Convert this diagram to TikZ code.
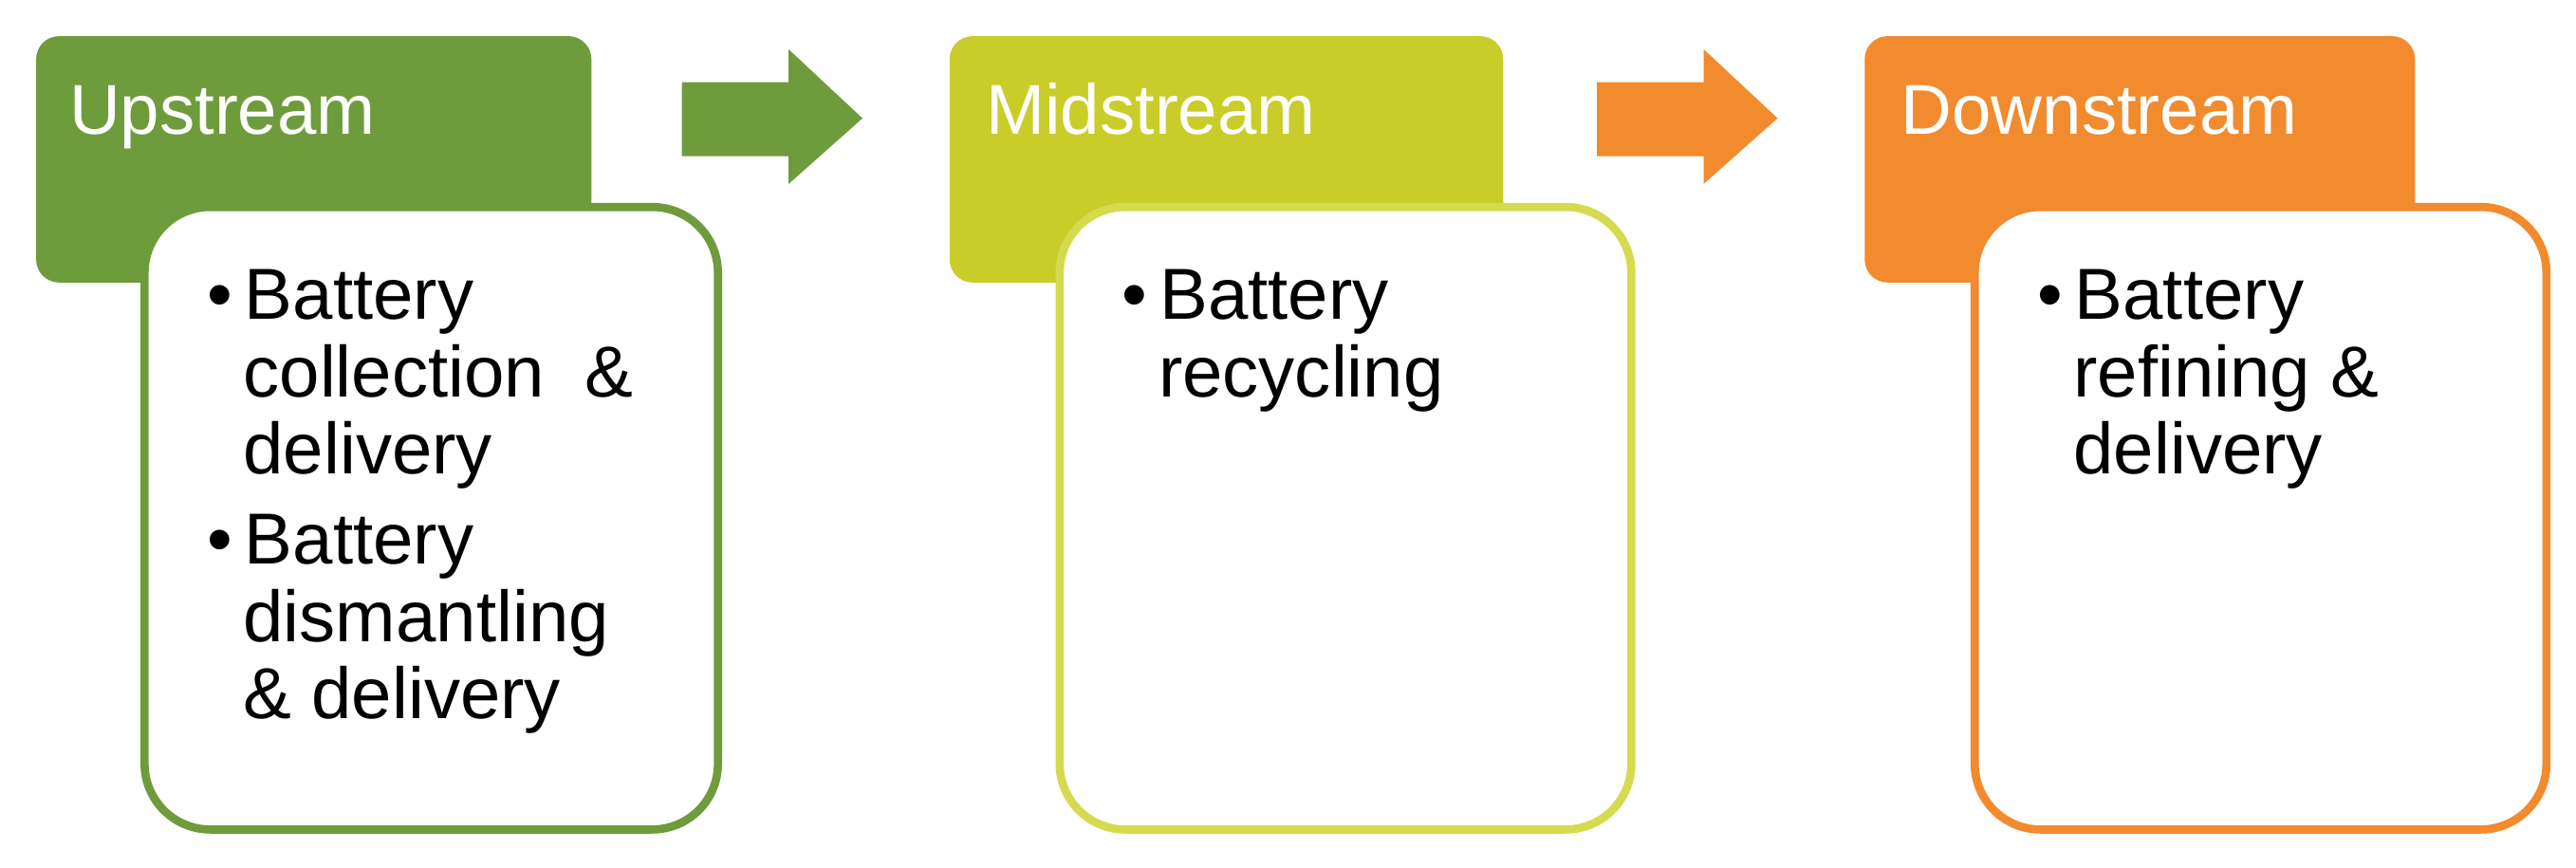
\documentclass[tikz,border=0pt]{standalone}
\usepackage{fontspec}
\setmainfont{Liberation Sans}
\definecolor{cg}{HTML}{6E9C3C}
\definecolor{cy}{HTML}{C8CD2A}
\definecolor{cyb}{HTML}{D5DB4E}
\definecolor{co}{HTML}{F28A2E}
\begin{document}
\begin{tikzpicture}[x=1pt,y=-1pt,
  hdr/.style={rounded corners=14pt},
  body/.style={draw,line width=5pt,fill=white,rounded corners=40pt},
  htext/.style={text=white,font=\fontsize{43}{48}\selectfont,anchor=base west,inner sep=0},
  btext/.style={font=\fontsize{44}{47}\selectfont,anchor=north west,inner sep=0,align=left}]
\useasboundingbox (0,0) rectangle (1568,528);
% Upstream
\fill[cg,hdr] (22,22) rectangle (360,172);
\node[htext] (uh) at (42,82) {Upstream};
\draw[body,draw=cg] (88,126) rectangle (437,505);
\node[btext] (ub) at (126,164) {\textbullet\,Battery\\\hspace{22pt}collection \ \&\\\hspace{22pt}delivery\\[8pt]\textbullet\,Battery\\\hspace{22pt}dismantling\\\hspace{22pt}\& delivery};
% arrow 1
\fill[cg] (415,50) -- (480,50) -- (480,30) -- (525,72) -- (480,112) -- (480,95) -- (415,95) -- cycle;
% Midstream
\fill[cy,hdr] (578,22) rectangle (915,172);
\node[htext] (mh) at (600,82) {Midstream};
\draw[body,draw=cyb] (645,126) rectangle (993,505);
\node[btext] (mb) at (683,164) {\textbullet\,Battery\\\hspace{22pt}recycling};
% arrow 2
\fill[co] (972,50) -- (1037,50) -- (1037,30) -- (1082,72) -- (1037,112) -- (1037,95) -- (972,95) -- cycle;
% Downstream
\fill[co,hdr] (1135,22) rectangle (1470,172);
\node[htext] (dh) at (1157,82) {Downstream};
\draw[body,draw=co] (1202,126) rectangle (1550,505);
\node[btext] (db) at (1240,164) {\textbullet\,Battery\\\hspace{22pt}refining \&\\\hspace{22pt}delivery};
\end{tikzpicture}
\end{document}
